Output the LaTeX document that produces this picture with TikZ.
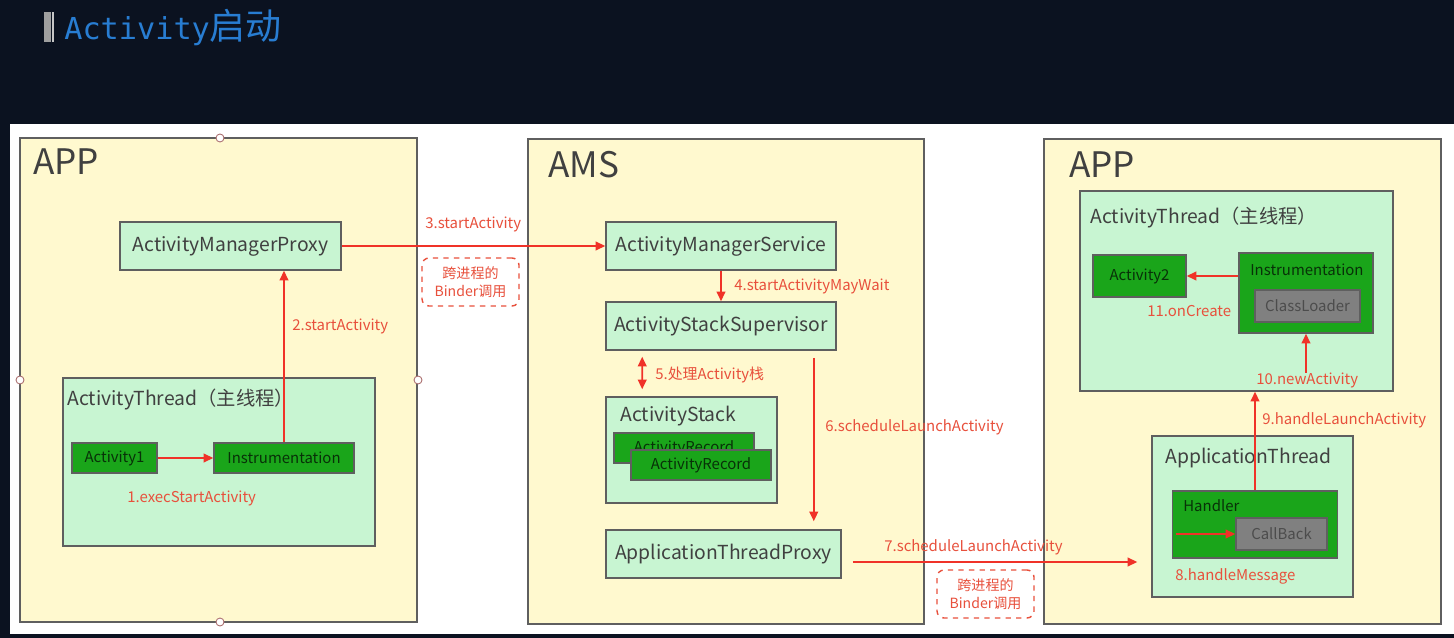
\documentclass[tikz,border=0pt]{standalone}
\usepackage{fontspec}
\setmainfont{Noto Sans CJK SC}
\newfontfamily\titlemono{DejaVu Sans Mono}
\usepackage{tikz}
\usetikzlibrary{arrows.meta,positioning,calc}
\definecolor{bgdark}{RGB}{11,18,32}
\definecolor{panelc}{RGB}{255,249,207}
\definecolor{lightg}{RGB}{200,245,210}
\definecolor{darkg}{RGB}{26,165,26}
\definecolor{loaderc}{RGB}{128,128,128}
\definecolor{flowc}{RGB}{240,50,40}
\definecolor{stepc}{RGB}{232,80,60}
\definecolor{edgec}{RGB}{95,95,95}
\definecolor{titlec}{RGB}{40,125,210}
\definecolor{handlec}{RGB}{170,110,110}

\begin{document}
\begin{tikzpicture}[x=0.02cm, y=-0.02cm,
  sz/.style 2 args={minimum width=#1cm, minimum height=#2cm},
  panel/.style={draw=edgec, fill=panelc, line width=0.9pt, inner sep=0pt},
  box/.style={draw=edgec, fill=lightg, line width=0.9pt, inner sep=0pt, text=black!75, font=\fontsize{11}{13}\selectfont},
  dbox/.style={box, fill=darkg, text=black!70!darkg, font=\fontsize{8.5}{10}\selectfont},
  gbox/.style={box, fill=loaderc, text=black!70, font=\fontsize{8.5}{10}\selectfont},
  head/.style={inner sep=0pt, text=black!75, font=\fontsize{20}{24}\selectfont},
  boxtitle/.style={inner sep=0pt, anchor=west, text=black!75, font=\fontsize{11}{13}\selectfont},
  subtitle/.style={inner sep=0pt, anchor=west, text=black!70!darkg, font=\fontsize{8.5}{10}\selectfont},
  steplbl/.style={inner sep=0pt, anchor=west, text=stepc, font=\fontsize{8.5}{10}\selectfont},
  binder/.style={draw=stepc, dashed, line width=0.8pt, rounded corners=4pt, text=stepc, align=center, inner sep=0pt, font=\fontsize{8}{10}\selectfont, sz={1.94}{0.96}},
  flow/.style={draw=flowc, line width=1pt, -{Triangle[length=5.5pt,width=5pt]}},
  handle/.style={draw=handlec, fill=white, line width=0.5pt}]

  % backdrop and title
  \fill[bgdark] (0,0) rectangle (1454,638);
  \fill[white] (10,124) rectangle (1454,634);
  \fill[gray!75] (44,12) rectangle (51,42);
  \fill[gray!45] (52,12) rectangle (53.5,42);
  \node[anchor=west, inner sep=0pt, text=titlec] (ttl) at (64,28)
    {{\titlemono\fontsize{17.2}{20}\selectfont Activity}{\fontsize{20.5}{22}\selectfont 启动}};

  % left APP
  \node[panel, sz={7.94}{9.68}] (appL) at (218.5,380) {};
  \node[head, anchor=west] (appLt) at (33,162) {APP};
  \node[box, sz={4.42}{0.96}] (amp) at (230.5,246) {ActivityManagerProxy};
  \node[box, sz={6.24}{3.36}] (atL) at (219,462) {};
  \node[boxtitle] (atLt) at (67,399) {ActivityThread（主线程）};
  \node[dbox, sz={1.70}{0.60}] (act1) at (114.5,458) {Activity1};
  \node[dbox, sz={2.80}{0.60}] (instrL) at (284,458) {Instrumentation};
  \foreach \p in {(220,138),(20,380),(418,380),(220,622)}
    \draw[handle] \p circle (4);

  % AMS
  \node[panel, sz={7.92}{9.70}] (ams) at (726,381.5) {};
  \node[head, anchor=west] (amst) at (548,165) {AMS};
  \node[box, sz={4.60}{0.96}] (amsvc) at (721,246) {ActivityManagerService};
  \node[box, sz={4.60}{0.96}] (ass) at (721,326) {ActivityStackSupervisor};
  \node[box, sz={3.42}{2.12}] (stack) at (691.5,450) {};
  \node[boxtitle] (stackt) at (620,416) {ActivityStack};
  \node[dbox, sz={2.80}{0.60}] (recA) at (684,448) {ActivityRecord};
  \node[dbox, sz={2.80}{0.60}] (recB) at (701,465) {ActivityRecord};
  \node[box, sz={4.70}{0.96}] (atp) at (723.5,554) {ApplicationThreadProxy};

  % right APP
  \node[panel, sz={7.94}{9.70}] (appR) at (1242.5,381.5) {};
  \node[head, anchor=west] (appRt) at (1069,165) {APP};
  \node[box, sz={6.26}{4.00}] (atR) at (1236.5,291) {};
  \node[boxtitle] (atRt) at (1090,217) {ActivityThread（主线程）};
  \node[dbox, sz={1.86}{0.84}] (act2) at (1139.5,276) {Activity2};
  \node[dbox, sz={2.68}{1.60}] (instrR) at (1306,293) {};
  \node[subtitle] (instrRt) at (1250,270) {Instrumentation};
  \node[gbox, sz={2.10}{0.64}] (loader) at (1307.5,306) {ClassLoader};
  \node[box, sz={4.02}{3.22}] (apth) at (1252.5,516.5) {};
  \node[boxtitle] (apttt) at (1165,458) {ApplicationThread};
  \node[dbox, sz={3.30}{1.34}] (handler) at (1255,524.5) {};
  \node[subtitle] (handlert) at (1183,506) {Handler};
  \node[gbox, sz={1.82}{0.64}] (callback) at (1281.5,534) {CallBack};

  % binder notes
  \node[binder] (binder1) at (470.5,282) {跨进程的\\Binder调用};
  \node[binder] (binder2) at (985.5,594) {跨进程的\\Binder调用};

  % calls
  \draw[flow] (act1) -- (instrL);
  \draw[flow] (instrL.north) -- (instrL.north |- amp.south);
  \draw[flow] (amp) -- (amsvc);
  \draw[flow] (amsvc) -- (ass);
  \draw[flow, {Triangle[length=5.5pt,width=5pt]}-{Triangle[length=5.5pt,width=5pt]}]
    ([xshift=0.74cm,yshift=-0.12cm]ass.south west) -- ([xshift=0.74cm,yshift=0.14cm]stack.north west);
  \coordinate (s6) at ([xshift=-0.46cm,yshift=-0.14cm]ass.south east);
  \draw[flow] (s6) -- ([yshift=0.16cm]s6 |- atp.north);
  \coordinate (s7) at ([xshift=0.22cm,yshift=-0.16cm]atp.east);
  \draw[flow] (s7) -- ([xshift=-0.28cm]s7 -| apth.west);
  \draw[flow] ([xshift=0.08cm]callback.west -| handler.west) -- (callback.west);
  \draw[flow] (handler.north) -- (handler.north |- atR.south);
  \draw[flow] ([yshift=-0.78cm]instrR.south) -- (instrR.south);
  \draw[flow] (act2.east -| instrR.west) -- (act2.east);

  % step labels
  \node[steplbl] (l1) at (127,498) {1.execStartActivity};
  \node[steplbl] (l2) at (292,326) {2.startActivity};
  \node[steplbl] (l3) at (425,224) {3.startActivity};
  \node[steplbl] (l4) at (734,286) {4.startActivityMayWait};
  \node[steplbl] (l5) at (655,375) {5.处理Activity栈};
  \node[steplbl] (l6) at (825,427) {6.scheduleLaunchActivity};
  \node[steplbl] (l7) at (884,547) {7.scheduleLaunchActivity};
  \node[steplbl] (l8) at (1175,576) {8.handleMessage};
  \node[steplbl] (l9) at (1262,420) {9.handleLaunchActivity};
  \node[steplbl] (l10) at (1256,380) {10.newActivity};
  \node[steplbl] (l11) at (1147,311) {11.onCreate};
\end{tikzpicture}
\end{document}
